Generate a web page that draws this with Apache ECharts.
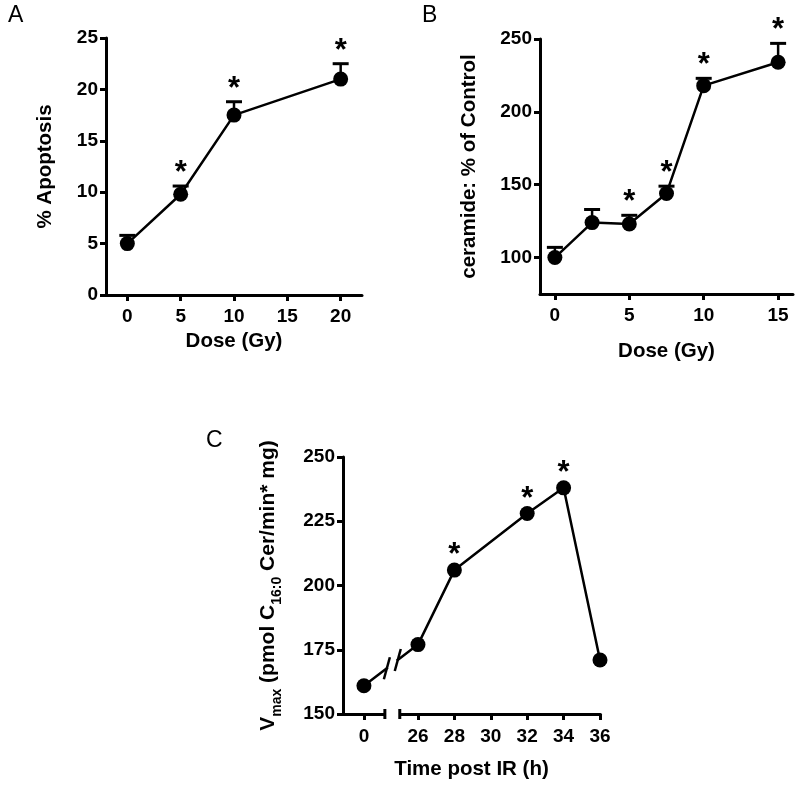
<!DOCTYPE html>
<html><head><meta charset="utf-8">
<script src="https://cdn.jsdelivr.net/npm/echarts@6/dist/echarts.min.js"></script>
<style>html,body{margin:0;padding:0;background:#fff}#c{width:800px;height:785px}</style>
</head><body><div id="c"></div>
<script>
// ---- Panel A ----
const doseA = [0, 5, 10, 20];
const apoptosis = [5.0, 9.8, 17.5, 21.0];
const apoptosisErr = [0.8, 0.8, 1.3, 1.5];
const starsA = [0, 1, 1, 1];
const ticksAx = [0, 5, 10, 15, 20];
// ---- Panel B ----
const doseB = [0, 2.5, 5, 7.5, 10, 15];
const ceramide = [100, 124, 123, 144, 218, 234];
const ceramideErr = [7, 9, 6, 5, 5, 13];
const starsB = [0, 0, 1, 1, 1, 1];
const ticksBx = [0, 5, 10, 15];
const ticksBy = [100, 150, 200, 250];
// ---- Panel C ----
const timeC = [0, 26, 28, 32, 34, 36];
const vmax = [161, 177, 206, 228, 238, 171];
const starsC = [0, 0, 1, 1, 1, 0];
const ticksCx = [0, 26, 28, 30, 32, 34, 36];

const FONT = "'Liberation Sans', Arial, sans-serif";
const TICK_FS = 19;
const chart = echarts.init(document.getElementById('c'), null, {renderer: 'canvas'});

function lbl(custom, margin) {
  const o = {color: '#000', fontSize: TICK_FS, fontWeight: 'bold', fontFamily: FONT, margin: margin || 8};
  if (custom) o.customValues = custom;
  return o;
}
function tick(custom) {
  const o = {show: true, inside: false, length: 6, lineStyle: {color: '#000', width: 3}};
  if (custom) o.customValues = custom;
  return o;
}
function axisBase(extra) {
  return Object.assign({
    axisLine: {show: true, onZero: false, lineStyle: {color: '#000', width: 3}},
    axisTick: tick(),
    axisLabel: lbl(),
    splitLine: {show: false},
    nameLocation: 'middle',
    nameTextStyle: {color: '#000', fontSize: 20.5, fontWeight: 'bold', fontFamily: FONT}
  }, extra);
}

function starText(x, y) {
  return {type: 'text', x: x, y: y, style: {text: '*', fontSize: 31, fontWeight: 'bold', fontFamily: FONT, align: 'center', verticalAlign: 'bottom', fill: '#000'}};
}
function errRender(params, api) {
  const x = api.value(0), y = api.value(1), e = api.value(2), s = api.value(3);
  const top = api.coord([x, y + e]);
  const mid = api.coord([x, y]);
  const ch = [
    {type: 'line', shape: {x1: top[0], y1: top[1], x2: mid[0], y2: mid[1]}, style: {stroke: '#000', lineWidth: 2.5}},
    {type: 'line', shape: {x1: top[0] - 8, y1: top[1], x2: top[0] + 8, y2: top[1]}, style: {stroke: '#000', lineWidth: 3}}
  ];
  if (s) ch.push(starText(top[0], top[1] + 3));
  return {type: 'group', children: ch};
}
function starRender(params, api) {
  const s = api.value(2);
  if (!s) return null;
  const p = api.coord([api.value(0), api.value(1)]);
  return starText(p[0], p[1] + 1);
}

const lineStyleCommon = {
  type: 'line', symbol: 'circle', symbolSize: 15,
  itemStyle: {color: '#000'}, lineStyle: {color: '#000', width: 2.5},
  z: 3, animation: false, silent: true
};

const option = {
  animation: false,
  backgroundColor: '#fff',
  grid: [
    {left: 106, top: 38, width: 256, height: 257},
    {left: 540, top: 39, width: 253, height: 255},
    {left: 343, top: 457, width: 257, height: 257}
  ],
  xAxis: [
    axisBase({gridIndex: 0, type: 'value', min: -2, max: 22, name: 'Dose (Gy)', nameGap: 36,
      axisTick: tick(ticksAx), axisLabel: lbl(ticksAx, 12)}),
    axisBase({gridIndex: 1, type: 'value', min: -1, max: 16, name: 'Dose (Gy)', nameGap: 47,
      axisTick: tick(ticksBx), axisLabel: lbl(ticksBx, 12)}),
    axisBase({gridIndex: 2, type: 'value', min: -1.15, max: 36, name: 'Time post IR (h)', nameGap: 45,
      breaks: [{start: 1.15, end: 25, gap: '5.8%'}],
      breakArea: {show: false},
      axisTick: tick(ticksCx), axisLabel: lbl(ticksCx, 13)})
  ],
  yAxis: [
    axisBase({gridIndex: 0, type: 'value', min: 0, max: 25, interval: 5, name: '% Apoptosis', nameGap: 50}),
    axisBase({gridIndex: 1, type: 'value', min: 75, max: 250, name: 'ceramide: % of Control', nameGap: 60,
      axisTick: tick(ticksBy), axisLabel: lbl(ticksBy)}),
    axisBase({gridIndex: 2, type: 'value', min: 150, max: 250, interval: 25, nameGap: 61,
      name: '{a|V}{s|max}{a| (pmol C}{s|16:0}{a| Cer/min* mg)}',
      nameTextStyle: {color: '#000', fontFamily: FONT, fontWeight: 'bold', fontSize: 21,
        rich: {
          a: {fontSize: 21, fontWeight: 'bold', fontFamily: FONT, color: '#000', lineHeight: 24, verticalAlign: 'top'},
          s: {fontSize: 14, fontWeight: 'bold', fontFamily: FONT, color: '#000', lineHeight: 15, padding: [12, 0, 0, 0], verticalAlign: 'top'}
        }}})
  ],
  series: [
    {type: 'custom', xAxisIndex: 0, yAxisIndex: 0, renderItem: errRender, z: 2, silent: true,
      data: doseA.map((d, i) => [d, apoptosis[i], apoptosisErr[i], starsA[i]])},
    Object.assign({}, lineStyleCommon, {xAxisIndex: 0, yAxisIndex: 0, data: doseA.map((d, i) => [d, apoptosis[i]])}),
    {type: 'custom', xAxisIndex: 1, yAxisIndex: 1, renderItem: errRender, z: 2, silent: true,
      data: doseB.map((d, i) => [d, ceramide[i], ceramideErr[i], starsB[i]])},
    Object.assign({}, lineStyleCommon, {xAxisIndex: 1, yAxisIndex: 1, data: doseB.map((d, i) => [d, ceramide[i]])}),
    Object.assign({}, lineStyleCommon, {xAxisIndex: 2, yAxisIndex: 2, data: timeC.map((d, i) => [d, vmax[i]])}),
    {type: 'custom', xAxisIndex: 2, yAxisIndex: 2, renderItem: starRender, z: 4, silent: true,
      data: timeC.map((d, i) => [d, vmax[i], starsC[i]])}
  ],
  graphic: [
    {type: 'text', left: 8, top: 4, style: {text: 'A', fontSize: 23, fontFamily: FONT, fill: '#000'}},
    {type: 'text', left: 422, top: 4, style: {text: 'B', fontSize: 23, fontFamily: FONT, fill: '#000'}},
    {type: 'text', left: 206, top: 429, style: {text: 'C', fontSize: 23, fontFamily: FONT, fill: '#000'}}
  ]
};
chart.setOption(option);

// axis-break decorations for panel C, positioned through the chart's own scales
(function () {
  const f = {xAxisIndex: 2, yAxisIndex: 2};
  const p0 = chart.convertToPixel(f, [timeC[0], vmax[0]]);
  const p1 = chart.convertToPixel(f, [timeC[1], vmax[1]]);
  const b1 = chart.convertToPixel(f, [1.15, 150]);
  const b2 = chart.convertToPixel(f, [25, 150]);
  const yAt = x => p0[1] + (x - p0[0]) * (p1[1] - p0[1]) / (p1[0] - p0[0]);
  const m1 = b1[0] + 2, m2 = b2[0] - 2;
  const g = [];
  g.push({type: 'rect', shape: {x: b1[0] + 1, y: b1[1] - 3, width: b2[0] - b1[0] - 2, height: 6}, style: {fill: '#fff'}, z: 100});
  g.push({type: 'line', shape: {x1: b1[0], y1: b1[1] - 5, x2: b1[0], y2: b1[1] + 5}, style: {stroke: '#000', lineWidth: 3}, z: 101});
  g.push({type: 'line', shape: {x1: b2[0], y1: b2[1] - 5, x2: b2[0], y2: b2[1] + 5}, style: {stroke: '#000', lineWidth: 3}, z: 101});
  g.push({type: 'line', shape: {x1: m1 + 1, y1: yAt(m1 + 1), x2: m2 - 1, y2: yAt(m2 - 1)}, style: {stroke: '#fff', lineWidth: 6}, z: 100});
  [m1, m2].forEach(m => {
    const yc = yAt(m);
    g.push({type: 'line', shape: {x1: m - 3, y1: yc + 11, x2: m + 3, y2: yc - 11}, style: {stroke: '#000', lineWidth: 2.5}, z: 101});
  });
  chart.setOption({graphic: option.graphic.concat(g)});
})();
</script>
</body></html>
